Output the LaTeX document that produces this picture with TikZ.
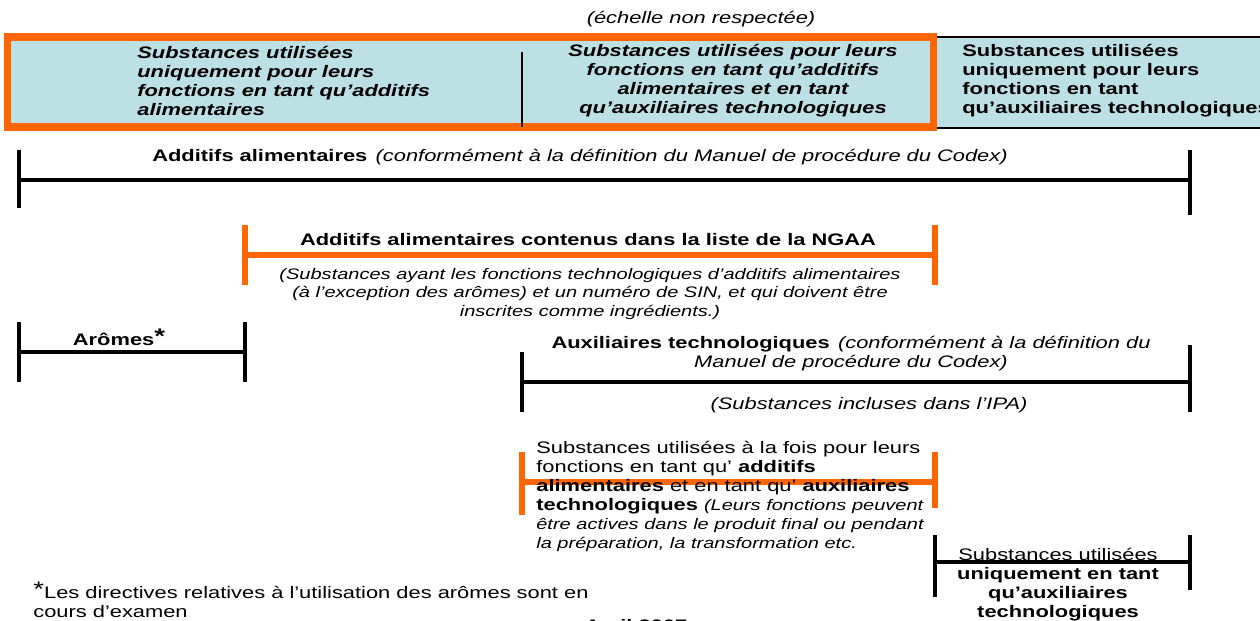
\documentclass[tikz,border=0pt]{standalone}
\usepackage{fontspec}
\setmainfont{Liberation Sans}[FakeStretch=1.31]
\usetikzlibrary{positioning}
\definecolor{dgInk}{HTML}{000000}
\definecolor{dgOrange}{HTML}{FF6600}
\definecolor{dgBlueFill}{HTML}{BCE0E4}
\newcommand{\dgsmall}{\fontsize{8.7}{10.3}\selectfont\itshape}
\tikzset{
  dgBar/.style={draw=dgInk,line width=2.3pt},
  dgBarOrange/.style={draw=dgOrange,line width=3.2pt},
  dgText/.style={inner sep=0pt,align=center,text=dgInk,font=\fontsize{9.5}{10.8}\selectfont},
  dgNote/.style={dgText,font=\dgsmall}
}

\begin{document}
\begin{tikzpicture}[x=0.02cm,y=-0.02cm,
  cell/.style={dgText,align=left,anchor=west}]
\useasboundingbox (0,0) rectangle (1260,620);
% top row of cells
\fill[dgBlueFill] (10,37) rectangle (1270,128);
\draw[dgInk,line width=1.1pt] (935,37) rectangle (1270,128);
\draw[dgOrange,line width=4pt] (7.5,37) rectangle (933,127);
\coordinate (divTop) at (522,52);
\coordinate (divBot) at (522,127);
\draw[dgInk,line width=0.6pt] (divTop) -- (divBot);
\node[dgText,font=\fontsize{9.5}{10.8}\selectfont\itshape] (scale) at (701,19) {(échelle non respectée)};
\node[cell,font=\fontsize{9.5}{10.8}\selectfont\bfseries\itshape] (onlyAdd) at (137,80.5)
  {Substances utilisées\\uniquement pour leurs\\fonctions en tant qu’additifs\\alimentaires};
\node[dgText,font=\fontsize{9.5}{10.8}\selectfont\bfseries\itshape] (both) at (733,80.5)
  {Substances utilisées pour leurs\\fonctions en tant qu’additifs\\alimentaires et en tant\\qu’auxiliaires technologiques};
\node[cell,font=\fontsize{9.5}{10.8}\selectfont\bfseries] (onlyAux) at (962,80.5)
  {Substances utilisées\\uniquement pour leurs\\fonctions en tant\\qu’auxiliaires technologiques};

% additifs alimentaires
\coordinate (aaL) at (19,180);
\coordinate (aaR) at (1190,180);
\draw[dgBar] (19,150) -- (19,208);
\draw[dgBar] (1190,150) -- (1190,215);
\draw[dgBar] (aaL) -- (aaR);
\node[dgText] (aaLbl) at (580,157) {\textbf{Additifs alimentaires}\enspace\textit{(conformément à la définition du Manuel de procédure du Codex)}};

% NGAA
\coordinate (ngL) at (245,255);
\coordinate (ngR) at (935,255);
\draw[dgBarOrange] (245,225) -- (245,285);
\draw[dgBarOrange] (935,225) -- (935,285);
\draw[dgBarOrange] (ngL) -- (ngR);
\node[dgText,font=\fontsize{9.5}{10.8}\selectfont\bfseries] (ngLbl) at (588,240) {Additifs alimentaires contenus dans la liste de la NGAA};
\node[dgNote] (ngNote) at (590,294) {(Substances ayant les fonctions technologiques d’additifs alimentaires\\(à l’exception des arômes) et un numéro de SIN, et qui doivent être\\inscrites comme ingrédients.)};

% aromes
\coordinate (arL) at (19,352);
\coordinate (arR) at (245,352);
\draw[dgBar] (19,322) -- (19,382);
\draw[dgBar] (245,322) -- (245,382);
\draw[dgBar] (arL) -- (arR);
\node[dgText,font=\fontsize{9.5}{10.8}\selectfont\bfseries] (arLbl) at (119,337) {Arômes\raisebox{0.25ex}{\large*}};

% auxiliaires technologiques
\coordinate (axL) at (522,382);
\coordinate (axR) at (1190,382);
\draw[dgBar] (522,352) -- (522,412);
\draw[dgBar] (1190,345) -- (1190,412);
\draw[dgBar] (axL) -- (axR);
\node[dgText] (axLbl) at (851,354) {\textbf{Auxiliaires technologiques}\enspace\textit{(conformément à la définition du}\\\textit{Manuel de procédure du Codex)}};
\node[dgText,font=\fontsize{9.5}{10.8}\selectfont\itshape] (axNote) at (869,405) {(Substances incluses dans l’IPA)};

% both functions
\coordinate (bfL) at (522,482);
\coordinate (bfR) at (935,482);
\draw[dgBarOrange] (522,452) -- (522,515);
\draw[dgBarOrange] (935,452) -- (935,508);
\draw[dgBarOrange] (bfL) -- (bfR);
\node[cell] (bfLbl) at (536,496.5) {Substances utilisées à la fois pour leurs\\fonctions en tant qu’ \textbf{additifs}\\\textbf{alimentaires} et en tant qu’ \textbf{auxiliaires}\\\textbf{technologiques} {\dgsmall(Leurs fonctions peuvent}\\{\dgsmall être actives dans le produit final ou pendant}\\{\dgsmall la préparation, la transformation etc.}};

% technological aids only
\coordinate (taL) at (935,562);
\coordinate (taR) at (1190,562);
\draw[dgBar] (935,535) -- (935,597);
\draw[dgBar] (1190,535) -- (1190,590);
\draw[dgBar] (taL) -- (taR);
\node[dgText] (taLbl) at (1058,584.5) {Substances utilisées\\\textbf{uniquement en tant}\\\textbf{qu’auxiliaires}\\\textbf{technologiques}};

% footnote
\node[cell] (foot) at (33,600) {\raisebox{0.2ex}{\large*}Les directives relatives à l’utilisation des arômes sont en\\cours d’examen};
\node[dgText,font=\fontsize{9.5}{10.8}\selectfont\bfseries] (date) at (636,625.5) {Avril 2007};
\end{tikzpicture}
\end{document}
